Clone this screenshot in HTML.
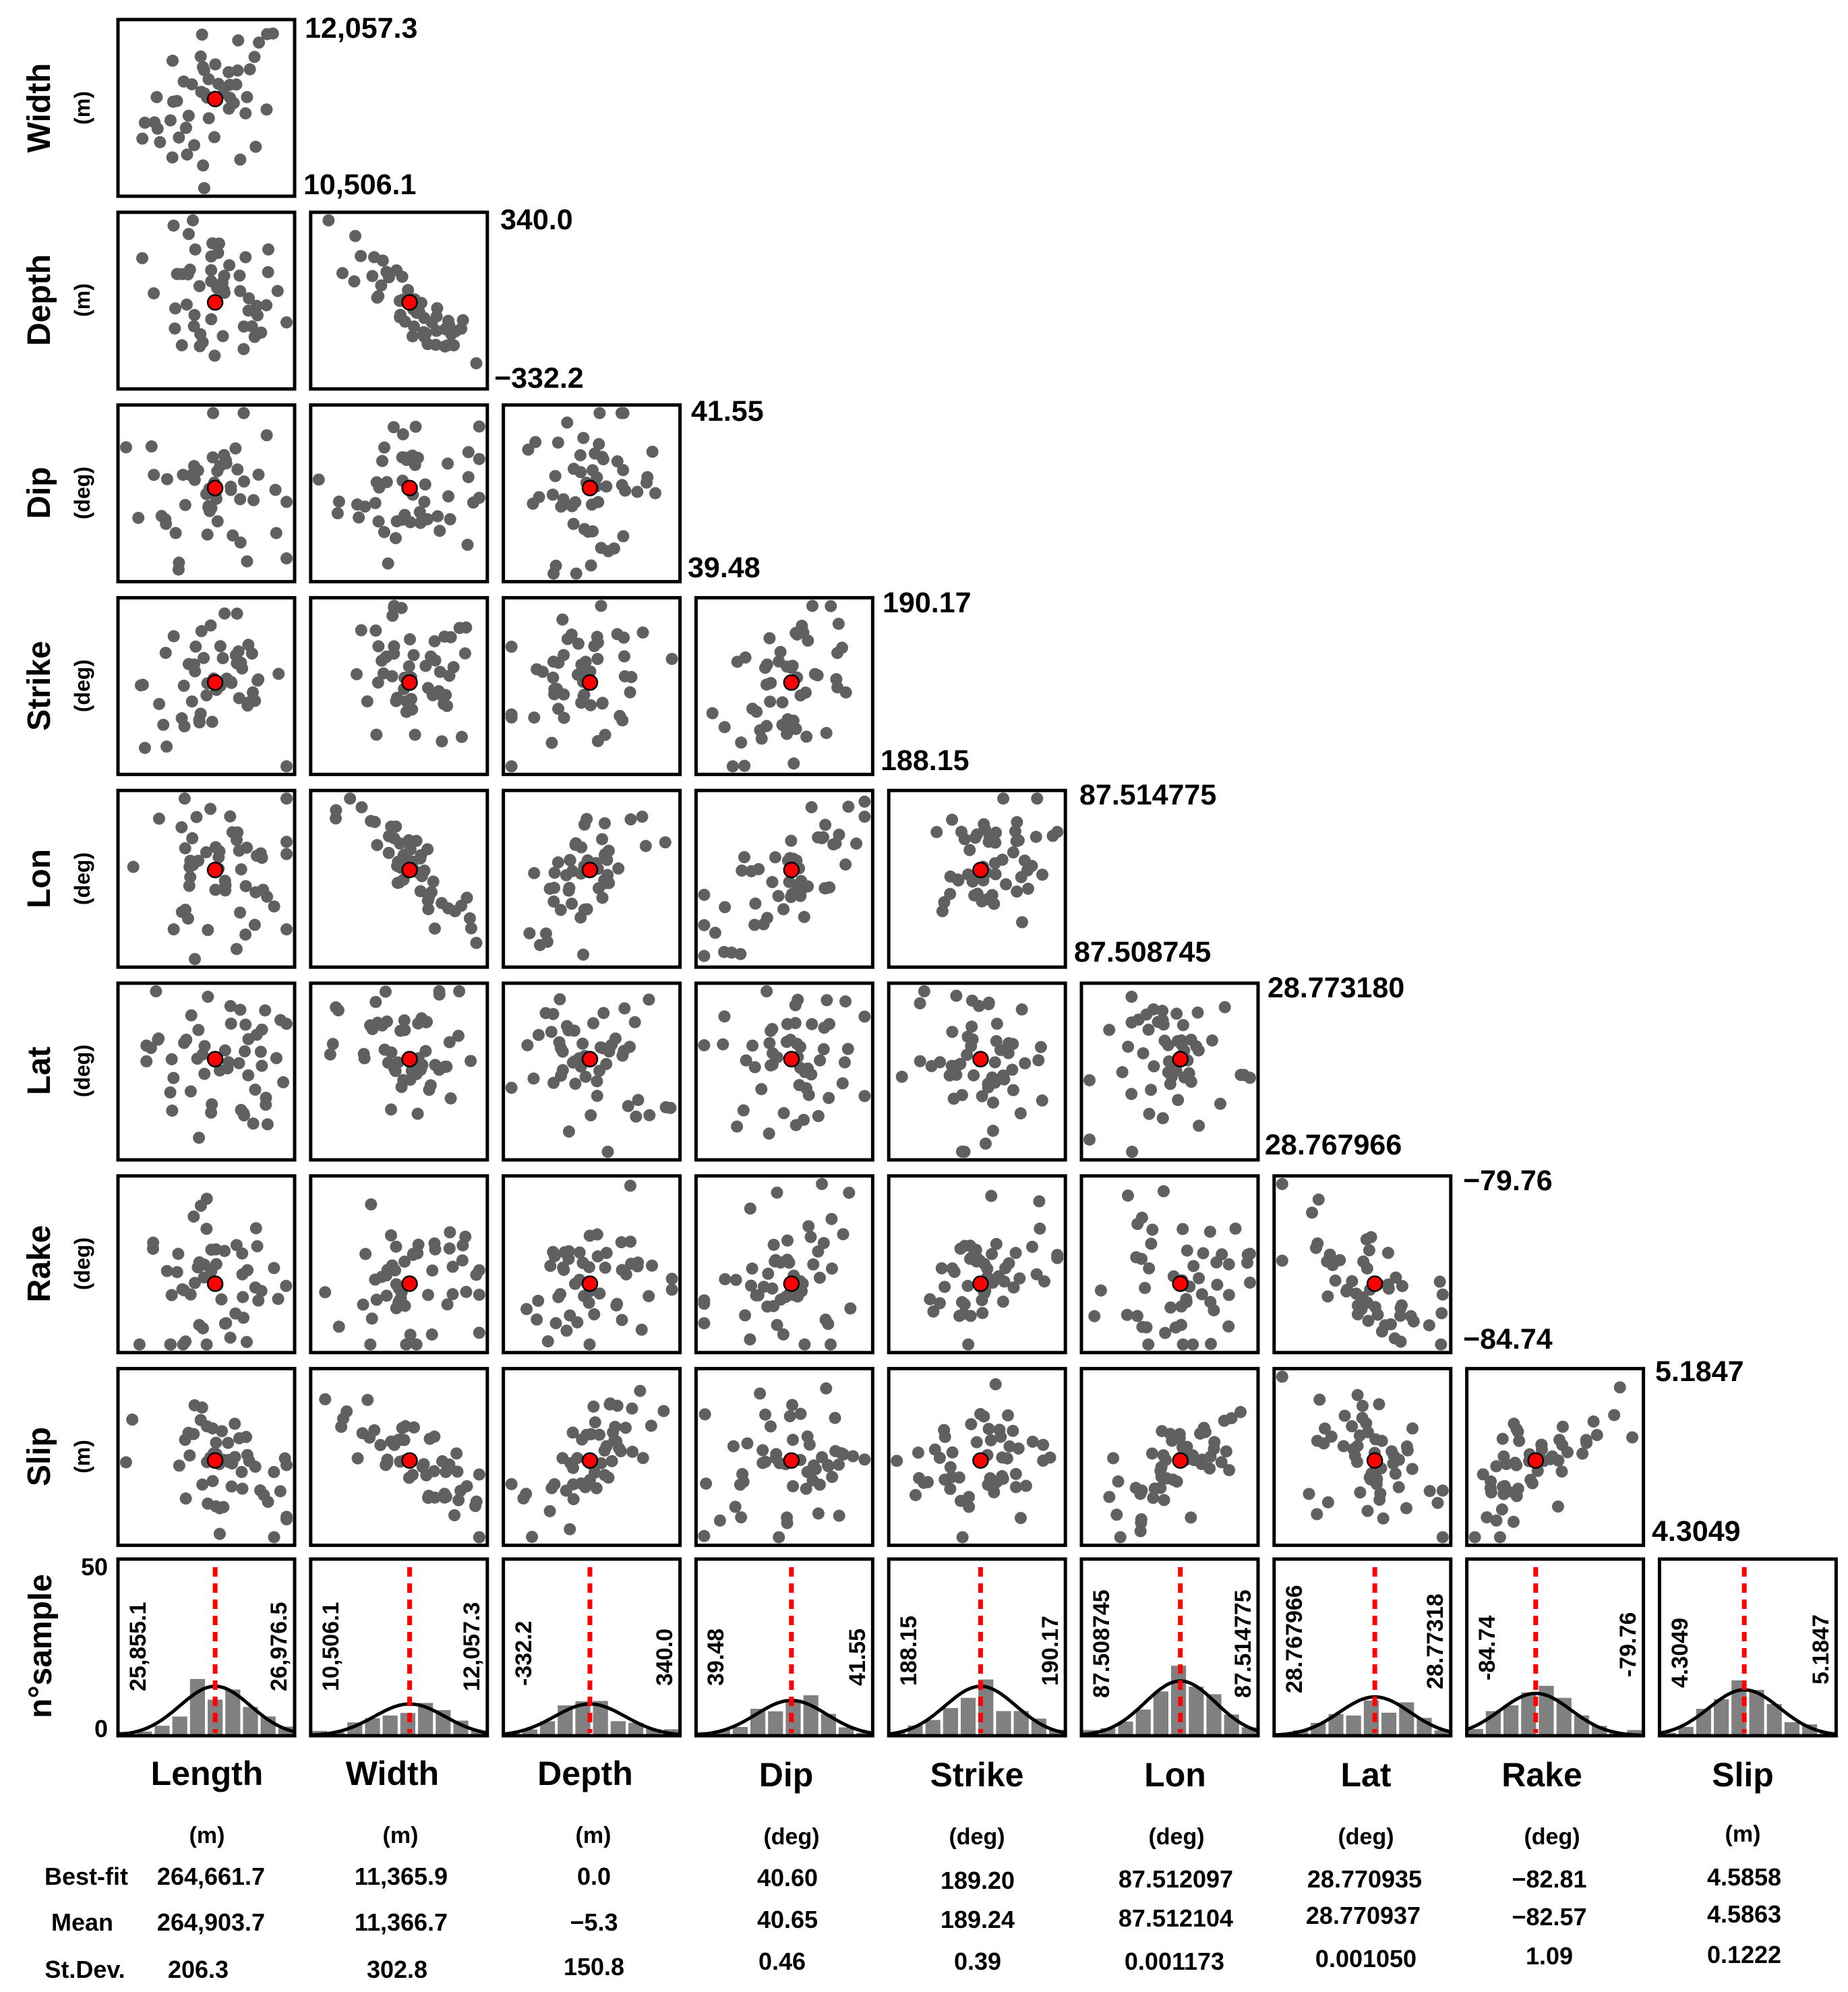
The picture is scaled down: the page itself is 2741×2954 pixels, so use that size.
<!DOCTYPE html>
<html><head><meta charset="utf-8">
<style>
html,body{margin:0;padding:0;background:#fff;}
svg{display:block;}
text{font-family:"Liberation Sans Narrow","Liberation Sans",sans-serif;font-weight:bold;fill:#000;}
</style></head>
<body>
<svg id="s" width="2741" height="2954" viewBox="0 0 2741 2954" xmlns="http://www.w3.org/2000/svg">
<rect width="2741" height="2954" fill="#fff"/>
<g id="g"></g>
<g font-size="48">
<text transform="translate(74,160) rotate(-90)" text-anchor="middle">Width</text>
<text transform="translate(74,445) rotate(-90)" text-anchor="middle">Depth</text>
<text transform="translate(74,731) rotate(-90)" text-anchor="middle">Dip</text>
<text transform="translate(74,1017) rotate(-90)" text-anchor="middle">Strike</text>
<text transform="translate(74,1303) rotate(-90)" text-anchor="middle">Lon</text>
<text transform="translate(74,1588) rotate(-90)" text-anchor="middle">Lat</text>
<text transform="translate(74,1874) rotate(-90)" text-anchor="middle">Rake</text>
<text transform="translate(74,2160) rotate(-90)" text-anchor="middle">Slip</text>
<text transform="translate(76,2441) rotate(-90)" text-anchor="middle">n°sample</text>
</g>
<g font-size="32">
<text transform="translate(133,160) rotate(-90)" text-anchor="middle">(m)</text>
<text transform="translate(133,445) rotate(-90)" text-anchor="middle">(m)</text>
<text transform="translate(133,731) rotate(-90)" text-anchor="middle">(deg)</text>
<text transform="translate(133,1017) rotate(-90)" text-anchor="middle">(deg)</text>
<text transform="translate(133,1303) rotate(-90)" text-anchor="middle">(deg)</text>
<text transform="translate(133,1588) rotate(-90)" text-anchor="middle">(deg)</text>
<text transform="translate(133,1874) rotate(-90)" text-anchor="middle">(deg)</text>
<text transform="translate(133,2160) rotate(-90)" text-anchor="middle">(m)</text>
</g>
<g font-size="36" text-anchor="end">
<text x="160" y="2336">50</text>
<text x="160" y="2576">0</text>
</g>
<g font-size="43">
<text x="452" y="56">12,057.3</text><text x="450" y="288">10,506.1</text>
<text x="742" y="340">340.0</text><text x="733" y="575">−332.2</text>
<text x="1025" y="624">41.55</text><text x="1020" y="856">39.48</text>
<text x="1309" y="908">190.17</text><text x="1306" y="1142">188.15</text>
<text x="1601" y="1193">87.514775</text><text x="1593" y="1426">87.508745</text>
<text x="1880" y="1479">28.773180</text><text x="1876" y="1712">28.767966</text>
<text x="2170" y="1765">−79.76</text><text x="2170" y="2000">−84.74</text>
<text x="2455" y="2048">5.1847</text><text x="2450" y="2285">4.3049</text>
</g>
<g font-size="34">
<text transform="translate(216,2508) rotate(-90)">25,855.1</text><text transform="translate(425,2508) rotate(-90)">26,976.5</text>
<text transform="translate(502,2508) rotate(-90)">10,506.1</text><text transform="translate(711,2508) rotate(-90)">12,057.3</text>
<text transform="translate(788,2500) rotate(-90)">-332.2</text><text transform="translate(997,2500) rotate(-90)">340.0</text>
<text transform="translate(1073,2500) rotate(-90)">39.48</text><text transform="translate(1283,2500) rotate(-90)">41.55</text>
<text transform="translate(1359,2500) rotate(-90)">188.15</text><text transform="translate(1569,2500) rotate(-90)">190.17</text>
<text transform="translate(1645,2518) rotate(-90)">87.508745</text><text transform="translate(1855,2518) rotate(-90)">87.514775</text>
<text transform="translate(1931,2511) rotate(-90)">28.767966</text><text transform="translate(2140,2505) rotate(-90)">28.77318</text>
<text transform="translate(2217,2492) rotate(-90)">-84.74</text><text transform="translate(2426,2487) rotate(-90)">-79.76</text>
<text transform="translate(2503,2503) rotate(-90)">4.3049</text><text transform="translate(2712,2498) rotate(-90)">5.1847</text>
</g>
<g font-size="50" text-anchor="middle">
<text x="307" y="2647">Length</text><text x="582" y="2647">Width</text><text x="868" y="2647">Depth</text>
<text x="1166" y="2649">Dip</text><text x="1449" y="2649">Strike</text><text x="1743" y="2649">Lon</text>
<text x="2026" y="2649">Lat</text><text x="2287" y="2649">Rake</text><text x="2585" y="2649">Slip</text>
</g>
<g font-size="34" text-anchor="middle">
<text x="307" y="2733">(m)</text><text x="594" y="2733">(m)</text><text x="880" y="2733">(m)</text>
<text x="1174" y="2735">(deg)</text><text x="1449" y="2735">(deg)</text><text x="1745" y="2735">(deg)</text>
<text x="2026" y="2735">(deg)</text><text x="2302" y="2735">(deg)</text><text x="2585" y="2731">(m)</text>
</g>
<g font-size="36" text-anchor="middle">
<text x="128" y="2795">Best-fit</text><text x="122" y="2863">Mean</text><text x="126" y="2933">St.Dev.</text>
<text x="313" y="2795">264,661.7</text><text x="313" y="2863">264,903.7</text><text x="294" y="2933">206.3</text>
<text x="595" y="2795">11,365.9</text><text x="595" y="2863">11,366.7</text><text x="589" y="2933">302.8</text>
<text x="881" y="2795">0.0</text><text x="881" y="2863">−5.3</text><text x="881" y="2929">150.8</text>
<text x="1168" y="2797">40.60</text><text x="1168" y="2859">40.65</text><text x="1160" y="2921">0.46</text>
<text x="1450" y="2801">189.20</text><text x="1450" y="2859">189.24</text><text x="1450" y="2921">0.39</text>
<text x="1744" y="2799">87.512097</text><text x="1744" y="2857">87.512104</text><text x="1742" y="2921">0.001173</text>
<text x="2024" y="2799">28.770935</text><text x="2022" y="2853">28.770937</text><text x="2026" y="2917">0.001050</text>
<text x="2298" y="2799">−82.81</text><text x="2298" y="2855">−82.57</text><text x="2298" y="2913">1.09</text>
<text x="2587" y="2796">4.5858</text><text x="2587" y="2851">4.5863</text><text x="2587" y="2911">0.1222</text>
</g>
</svg>
<script>
(function(){
var NS="http://www.w3.org/2000/svg",g=document.getElementById("g");
function el(t,a){var e=document.createElementNS(NS,t);for(var k in a)e.setAttribute(k,a[k]);g.appendChild(e);return e;}
var seed=12345;function rnd(){seed=(seed*1103515245+12345)%2147483648;return seed/2147483648;}
function randn(){var u=rnd()||1e-6,v=rnd();return Math.sqrt(-2*Math.log(u))*Math.cos(2*Math.PI*v);}
var X0=175,Y0=29,S=285.8,W=262;
var cxs=[0.55,0.56,0.49,0.54,0.52,0.56,0.57,0.39,0.48];
var cys=[0.45,0.51,0.47,0.48,0.45,0.43,0.61,0.52];
var rho=[[0.3],[0,-0.85],[0,0,0.1],[0,0,0,0.3],[0,-0.8,0.6,0.6,0.3],[0,0,-0.2,0,0,0.2],[0,0,0.2,0.2,0.4,0,-0.6],[-0.5,-0.8,0.7,0.2,0.2,0.7,-0.3,0.5]];
for(var r=0;r<8;r++){for(var c=0;c<=r;c++){
 var x=X0+c*S,y=Y0+r*S,p=rho[r][c];
 var cx=x+cxs[c]*W,cy=y+cys[r]*W;
 for(var i=0;i<52;i++){var u=randn(),v=p*u+Math.sqrt(1-p*p)*randn();
  var px=cx+u*0.2*W,py=cy-v*0.2*W;
  px=Math.max(x+12,Math.min(x+W-12,px));py=Math.max(y+12,Math.min(y+W-12,py));
  el("circle",{cx:px,cy:py,r:9,fill:"#606060"});}
 el("circle",{cx:cx,cy:cy,r:11,fill:"#f00",stroke:"#000","stroke-width":2.5});
 el("rect",{x:x,y:y,width:W,height:W,fill:"none",stroke:"#000","stroke-width":5});
}}
var peaks=[0.28,0.18,0.18,0.2,0.28,0.31,0.22,0.24,0.26];
var hy=2312;
for(var c=0;c<9;c++){
 var x=X0+c*S,H=W,pk=peaks[c],m=cxs[c],bw=W/10;
 for(var b=0;b<10;b++){var t=(b+0.5)/10;var h=pk*Math.exp(-Math.pow((t-m)/0.2,2)/2)*(0.6+rnd()*0.8)*H;
  if(h<4)h=4+rnd()*6;
  el("rect",{x:x+b*bw+2,y:hy+H-h,width:bw-4,height:h,fill:"#808080"});}
 var d="";for(var k=0;k<=60;k++){var t=k/60;var yy=hy+H-pk*H*Math.exp(-Math.pow((t-m)/0.2,2)/2);d+=(k?"L":"M")+(x+t*W).toFixed(1)+","+yy.toFixed(1);}
 el("path",{d:d,fill:"none",stroke:"#000","stroke-width":5});
 el("line",{x1:x+m*W,y1:hy+12,x2:x+m*W,y2:hy+H-4,stroke:"#f00","stroke-width":7,"stroke-dasharray":"14 10"});
 el("rect",{x:x,y:hy,width:W,height:H,fill:"none",stroke:"#000","stroke-width":5});
}
})();
</script>
</body></html>
